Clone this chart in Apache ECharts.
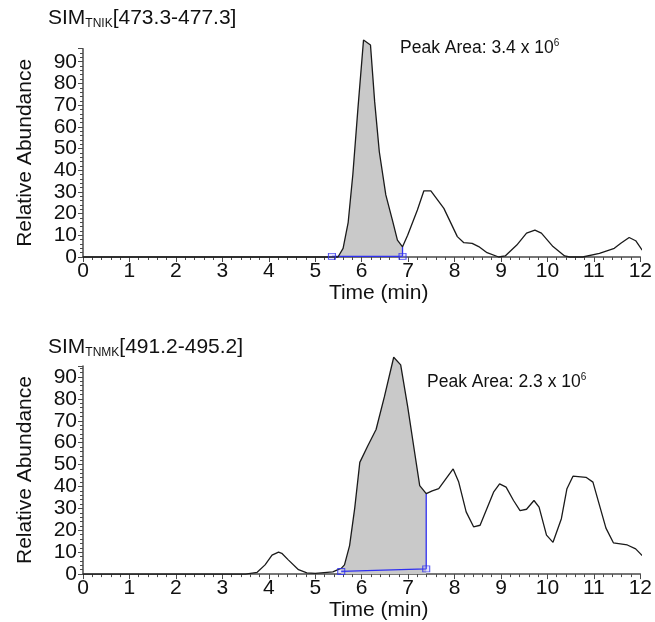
<!DOCTYPE html>
<html>
<head>
<meta charset="utf-8">
<script src="https://cdn.jsdelivr.net/npm/echarts@6/dist/echarts.min.js"></script>
<style>
html,body{margin:0;padding:0;background:#fff;}
#chart{width:655px;height:622px;}
</style>
</head>
<body>
<div id="chart"></div>
<script>
// ---- Data: SIM TNIK [473.3-477.3] ----
const tnikTime = [0, 5.0, 5.49, 5.6, 5.71, 5.81, 5.92, 6.04, 6.19, 6.28, 6.38, 6.52, 6.67, 6.77, 6.88, 6.99, 7.2, 7.34, 7.49, 7.77, 8.06, 8.2, 8.38, 8.52, 8.7, 8.95, 9.09, 9.34, 9.55, 9.73, 9.87, 10.12, 10.37, 10.48, 10.76, 11.12, 11.44, 11.58, 11.76, 11.9, 12.04];
const tnikAbund = [0, 0, 0, 4, 16, 38, 68.5, 100, 97.7, 71.6, 48.5, 28.6, 16.3, 7.8, 4.7, 10, 21.7, 30.5, 30.5, 22.4, 9.4, 6.6, 6.3, 4.8, 2, 0, 0.5, 5.5, 11, 12.4, 11, 4.8, 0.5, 0, 0, 1.7, 4, 6.3, 9, 7.5, 3.2];
const tnikPeakRange = [5.49, 6.88];
const tnikBaseTime = [5.36, 6.88];
const tnikBaseAbund = [0.3, 0.3];
const tnikEndAbund = 4.7;

// ---- Data: SIM TNMK [491.2-495.2] ----
const tnmkTime = [0, 3.5, 3.75, 3.92, 4.07, 4.21, 4.28, 4.42, 4.64, 4.82, 5.0, 5.38, 5.49, 5.56, 5.63, 5.74, 5.85, 5.96, 6.13, 6.31, 6.49, 6.69, 6.84, 6.99, 7.13, 7.25, 7.39, 7.52, 7.66, 7.97, 8.09, 8.25, 8.41, 8.55, 8.84, 8.97, 9.11, 9.27, 9.41, 9.55, 9.71, 9.82, 9.98, 10.12, 10.3, 10.42, 10.55, 10.83, 10.98, 11.1, 11.26, 11.42, 11.72, 11.9, 12.04];
const tnmkAbund = [0, 0, 0.8, 4.2, 8.7, 10, 9.5, 6.5, 2, 0.6, 0.3, 1, 2, 2.6, 4.2, 13, 30, 51, 58.5, 66, 81, 99, 95.5, 76.6, 57, 40.4, 36.7, 38, 39, 48, 42, 28.4, 21.6, 22.3, 37.4, 41.2, 39.7, 33.6, 29, 29.6, 33.6, 30.6, 17.8, 14.5, 25.3, 39, 44.7, 44.2, 42, 33, 21, 14.3, 13.3, 11.5, 8.5];
const tnmkPeakRange = [5.56, 7.39];
const tnmkBaseTime = [5.56, 7.39];
const tnmkBaseAbund = [1.2, 2.4];
const tnmkEndAbund = 36.7;

// ---- Tick labels / texts ----
const xTicks = [0,1,2,3,4,5,6,7,8,9,10,11,12];
const yTicks = [0,10,20,30,40,50,60,70,80,90];
const titles = [
  {sim: 'SIM', sub: 'TNIK', range: '[473.3-477.3]', area: '3.4', exp: '6'},
  {sim: 'SIM', sub: 'TNMK', range: '[491.2-495.2]', area: '2.3', exp: '6'}
];

const FONT = '"Liberation Sans", Arial, sans-serif';
const AXIS_COLOR = '#4a4a4a';

function pairs(t, v) { return t.map((x, i) => [x, v[i]]); }
function shaded(t, v, r) { return pairs(t, v).filter(p => p[0] >= r[0] - 1e-9 && p[0] <= r[1] + 1e-9); }

const grids = [
  {left: 83, width: 561.6, top: 48.7, height: 208.3},
  {left: 83, width: 561.6, top: 366, height: 210}
];
const yMax = [96, 95];

function xAxis(i) {
  return {
    type: 'value', gridIndex: i, min: 0, max: 12, interval: 1,
    name: 'Time (min)', nameLocation: 'middle', nameGap: 24,
    nameTextStyle: {fontFamily: FONT, fontSize: 21, color: '#111', padding: [0, 0, 0, 34]},
    axisLine: {show: true, onZero: false, lineStyle: {color: AXIS_COLOR, width: 1.5}},
    axisTick: {show: true, length: 5, lineStyle: {color: AXIS_COLOR, width: 1}},
    minorTick: {show: true, splitNumber: 5, length: 3, lineStyle: {color: AXIS_COLOR, width: 1}},
    splitLine: {show: false},
    axisLabel: {margin: 4, fontFamily: FONT, fontSize: 21, color: '#111',
      formatter: v => xTicks.indexOf(v) >= 0 ? String(v) : ''}
  };
}
function yAxis(i) {
  return {
    type: 'value', gridIndex: i, min: 0, max: yMax[i], interval: 10,
    name: 'Relative Abundance', nameLocation: 'middle', nameGap: 47,
    nameTextStyle: {fontFamily: FONT, fontSize: 21, color: '#111'},
    axisLine: {show: true, onZero: false, lineStyle: {color: AXIS_COLOR, width: 1.5}},
    axisTick: {show: true, length: 5, lineStyle: {color: AXIS_COLOR, width: 1}},
    minorTick: {show: true, splitNumber: 5, length: 3, lineStyle: {color: AXIS_COLOR, width: 1}},
    splitLine: {show: false},
    axisLabel: {margin: 6, fontFamily: FONT, fontSize: 21, color: '#111',
      formatter: v => yTicks.indexOf(v) >= 0 ? String(v) : ''}
  };
}

function seriesFor(i, t, v, range, bt, bv, endV) {
  const blue = '#2f2ff0';
  return [
    {type: 'line', xAxisIndex: i, yAxisIndex: i, data: shaded(t, v, range), symbol: 'none',
     lineStyle: {width: 0}, areaStyle: {color: '#c9c9c9', opacity: 1}, z: 1, silent: true, clip: false},
    {type: 'line', xAxisIndex: i, yAxisIndex: i, data: [[bt[0], bv[0]], [bt[1], bv[1]], [bt[1], endV]],
     symbol: 'none', lineStyle: {color: blue, width: 1.3}, z: 2, clip: false},
    {type: 'scatter', xAxisIndex: i, yAxisIndex: i, data: [[bt[0], bv[0]], [bt[1], bv[1]]],
     symbol: 'rect', symbolSize: [7, 6], itemStyle: {color: 'rgba(120,120,255,0.25)', borderColor: blue, borderWidth: 1}, z: 4, clip: false},
    {type: 'line', xAxisIndex: i, yAxisIndex: i, data: pairs(t, v), symbol: 'none',
     lineStyle: {color: '#1a1a1a', width: 1.3}, z: 3, clip: false}
  ];
}

function titleComps(i, lineTopTitle, leftArea, lineTopArea) {
  const tt = titles[i];
  return [
    {left: 48, top: lineTopTitle, padding: 0,
     text: '{a|' + tt.sim + '}{b|' + tt.sub + '}{a|' + tt.range + '}',
     textStyle: {fontWeight: 'normal', rich: {
       a: {fontFamily: FONT, fontSize: 21, fontWeight: 'normal', lineHeight: 24, color: '#111'},
       b: {fontFamily: FONT, fontSize: 12, fontWeight: 'normal', lineHeight: 4, verticalAlign: 'bottom', color: '#111'}
     }}},
    {left: leftArea, top: lineTopArea, padding: 0,
     text: '{p|Peak Area: ' + tt.area + ' x 10}{s|' + tt.exp + '}',
     textStyle: {fontWeight: 'normal', rich: {
       p: {fontFamily: FONT, fontSize: 17.5, fontWeight: 'normal', lineHeight: 20, color: '#111'},
       s: {fontFamily: FONT, fontSize: 10, fontWeight: 'normal', lineHeight: 14, verticalAlign: 'top', color: '#111'}
     }}}
  ];
}

const chart = echarts.init(document.getElementById('chart'), null, {renderer: 'canvas'});
chart.setOption({
  backgroundColor: '#fff',
  animation: false,
  title: titleComps(0, 6, 400, 38).concat(titleComps(1, 335, 427, 372)),
  grid: grids,
  xAxis: [xAxis(0), xAxis(1)],
  yAxis: [yAxis(0), yAxis(1)],
  series: seriesFor(0, tnikTime, tnikAbund, tnikPeakRange, tnikBaseTime, tnikBaseAbund, tnikEndAbund)
    .concat(seriesFor(1, tnmkTime, tnmkAbund, tnmkPeakRange, tnmkBaseTime, tnmkBaseAbund, tnmkEndAbund))
});
</script>
</body>
</html>
